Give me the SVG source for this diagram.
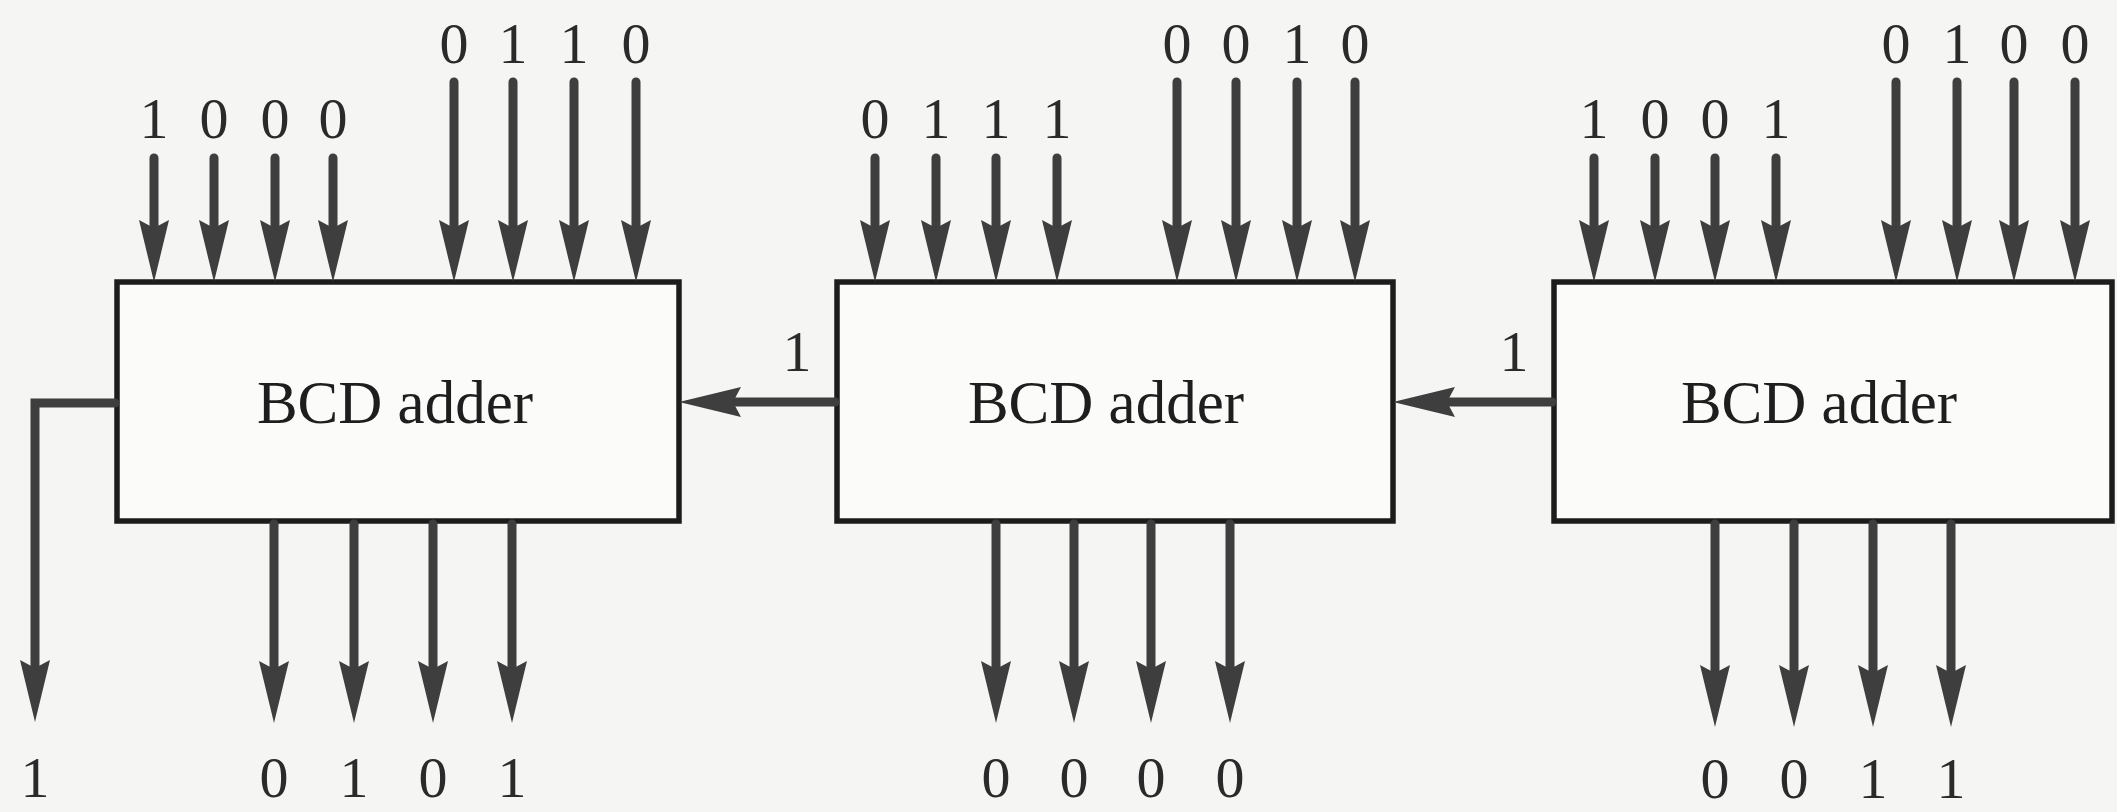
<svg xmlns="http://www.w3.org/2000/svg" width="2117" height="812" viewBox="0 0 2117 812">
<style>
.box{fill:#fbfbfa;stroke:#1c1c1c;stroke-width:5.5}
.bt{font-family:"Liberation Serif","Times New Roman",serif;font-size:61px;fill:#1e1e1e;text-anchor:middle}
.lb{font-family:"Liberation Serif","Times New Roman",serif;font-size:58px;fill:#2a2a2a;text-anchor:middle}
.w{fill:none;stroke:#3e3e3e;stroke-width:9;stroke-linecap:round;marker-end:url(#ah)}
</style>
<defs>
<marker id="ah" markerUnits="userSpaceOnUse" markerWidth="66" markerHeight="34" viewBox="0 0 66 34" refX="30" refY="17" orient="auto">
<path d="M0,2 L62,17 L0,32 L8,17 Z" fill="#3e3e3e"/>
</marker>
</defs>
<rect width="2117" height="812" fill="#f5f5f3"/>
<g id="adder1"><rect class="box" x="117" y="282" width="562" height="239"/><text class="bt" x="395" y="423">BCD adder</text></g>
<g id="adder2"><rect class="box" x="837" y="282" width="556" height="239"/><text class="bt" x="1106" y="423">BCD adder</text></g>
<g id="adder3"><rect class="box" x="1554" y="282" width="558" height="239"/><text class="bt" x="1819" y="423">BCD adder</text></g>
<g id="connectors">
<path class="w" d="M154,158V250"/><path class="w" d="M214,158V250"/><path class="w" d="M275,158V250"/><path class="w" d="M333,158V250"/>
<path class="w" d="M454,82V250"/><path class="w" d="M513,82V250"/><path class="w" d="M574,82V250"/><path class="w" d="M636,82V250"/>
<path class="w" d="M875,158V250"/><path class="w" d="M936,158V250"/><path class="w" d="M996,158V250"/><path class="w" d="M1057,158V250"/>
<path class="w" d="M1177,82V250"/><path class="w" d="M1236,82V250"/><path class="w" d="M1297,82V250"/><path class="w" d="M1355,82V250"/>
<path class="w" d="M1594,158V250"/><path class="w" d="M1655,158V250"/><path class="w" d="M1715,158V250"/><path class="w" d="M1776,158V250"/>
<path class="w" d="M1896,82V250"/><path class="w" d="M1957,82V250"/><path class="w" d="M2014,82V250"/><path class="w" d="M2075,82V250"/>
<path class="w" d="M274,524V691"/><path class="w" d="M354,524V691"/><path class="w" d="M433,524V691"/><path class="w" d="M512,524V691"/>
<path class="w" d="M996,524V691"/><path class="w" d="M1074,524V691"/><path class="w" d="M1151,524V691"/><path class="w" d="M1230,524V691"/>
<path class="w" d="M1715,524V695"/><path class="w" d="M1794,524V695"/><path class="w" d="M1873,524V695"/><path class="w" d="M1951,524V695"/>
<path class="w" d="M115,403H35V690" stroke-linejoin="miter" stroke-linecap="butt"/>
<path class="w" d="M835,402H711" stroke-linecap="butt"/>
<path class="w" d="M1552,402H1425" stroke-linecap="butt"/>
</g>
<g id="labels">
<text class="lb" x="154" y="138">1</text><text class="lb" x="214" y="138">0</text><text class="lb" x="275" y="138">0</text><text class="lb" x="333" y="138">0</text>
<text class="lb" x="454" y="63">0</text><text class="lb" x="513" y="63">1</text><text class="lb" x="574" y="63">1</text><text class="lb" x="636" y="63">0</text>
<text class="lb" x="875" y="138">0</text><text class="lb" x="936" y="138">1</text><text class="lb" x="996" y="138">1</text><text class="lb" x="1057" y="138">1</text>
<text class="lb" x="1177" y="63">0</text><text class="lb" x="1236" y="63">0</text><text class="lb" x="1297" y="63">1</text><text class="lb" x="1355" y="63">0</text>
<text class="lb" x="1594" y="138">1</text><text class="lb" x="1655" y="138">0</text><text class="lb" x="1715" y="138">0</text><text class="lb" x="1776" y="138">1</text>
<text class="lb" x="1896" y="63">0</text><text class="lb" x="1957" y="63">1</text><text class="lb" x="2014" y="63">0</text><text class="lb" x="2075" y="63">0</text>
<text class="lb" x="35" y="797">1</text>
<text class="lb" x="274" y="797">0</text><text class="lb" x="354" y="797">1</text><text class="lb" x="433" y="797">0</text><text class="lb" x="512" y="797">1</text>
<text class="lb" x="996" y="797">0</text><text class="lb" x="1074" y="797">0</text><text class="lb" x="1151" y="797">0</text><text class="lb" x="1230" y="797">0</text>
<text class="lb" x="1715" y="798">0</text><text class="lb" x="1794" y="798">0</text><text class="lb" x="1873" y="798">1</text><text class="lb" x="1951" y="798">1</text>
<text class="lb" x="797" y="371">1</text>
<text class="lb" x="1514" y="371">1</text>
</g>
</svg>
